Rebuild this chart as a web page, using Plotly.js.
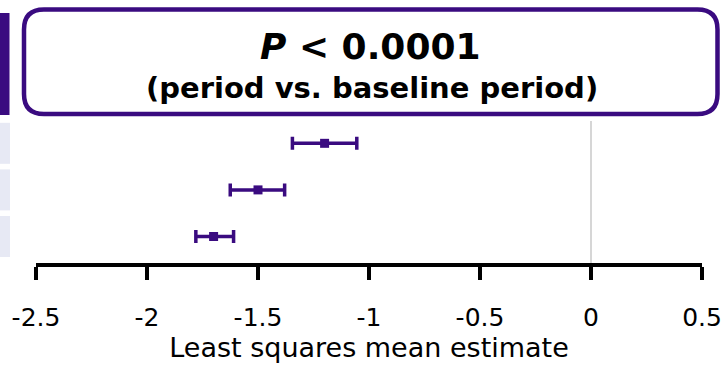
<!DOCTYPE html>
<html>
<head>
<meta charset="utf-8">
<script src="https://cdn.plot.ly/plotly-3.0.1.min.js"></script>
<style>
  html, body { margin: 0; padding: 0; background: #fff; }
  #chart { width: 727px; height: 365px; }
</style>
</head>
<body>
<div id="chart"></div>
<script>
// ---- data ----
const rowPositions = [3, 2, 1];             // top, middle, bottom row
const estimates    = [-1.20, -1.50, -1.70];
const lowerCI      = [-1.345, -1.625, -1.78];
const upperCI      = [-1.055, -1.38, -1.61];
const tickValues   = [-2.5, -2, -1.5, -1, -0.5, 0, 0.5];
const tickLabels   = ['-2.5', '-2', '-1.5', '-1', '-0.5', '0', '0.5'];
const titleMain    = '<b><i>P</i> &lt; 0.0001</b>';
const titleSub     = '<b>(period vs. baseline period)</b>';
const xTitle       = 'Least squares mean estimate';

// ---- styling ----
const purple = '#3a0b80';
const W = 727, H = 365;
const M = { l: 36, r: 25, t: 121, b: 102 };
const PW = W - M.l - M.r, PH = H - M.t - M.b;
const px = x => (x - M.l) / PW;            // pixel -> paper (x)
const py = y => (H - M.b - y) / PH;        // pixel -> paper (y)

// rounded title box (pixel geometry -> paper path)
function roundedBox(x0, y0, x1, y1, r) {
  const P = (x, y) => px(x).toFixed(5) + ',' + py(y).toFixed(5);
  return 'M' + P(x0 + r, y0) +
         ' L' + P(x1 - r, y0) +
         ' Q' + P(x1, y0) + ' ' + P(x1, y0 + r) +
         ' L' + P(x1, y1 - r) +
         ' Q' + P(x1, y1) + ' ' + P(x1 - r, y1) +
         ' L' + P(x0 + r, y1) +
         ' Q' + P(x0, y1) + ' ' + P(x0, y1 - r) +
         ' L' + P(x0, y0 + r) +
         ' Q' + P(x0, y0) + ' ' + P(x0 + r, y0) + ' Z';
}

const errPlus  = upperCI.map((u, i) => u - estimates[i]);
const errMinus = estimates.map((e, i) => e - lowerCI[i]);

const trace = {
  type: 'scatter',
  mode: 'markers',
  x: estimates,
  y: rowPositions,
  marker: { symbol: 'square', size: 9, color: purple },
  error_x: {
    type: 'data', symmetric: false,
    array: errPlus, arrayminus: errMinus,
    color: purple, thickness: 3.5, width: 6.5
  },
  hoverinfo: 'skip',
  showlegend: false,
  cliponaxis: false
};

const bandShapes = rowPositions.map(r => ({
  type: 'rect', xref: 'paper', yref: 'y', layer: 'below',
  x0: px(0), x1: px(10), y0: r - 0.44, y1: r + 0.44,
  fillcolor: '#e7e9f4', line: { width: 0 }
}));

const layout = {
  width: W, height: H,
  margin: M,
  paper_bgcolor: '#ffffff',
  plot_bgcolor: '#ffffff',
  font: { family: 'DejaVu Sans, Verdana, sans-serif', color: '#000000' },
  xaxis: {
    range: [-2.5, 0.5],
    tickmode: 'array',
    tickvals: tickValues,
    ticktext: tickLabels,
    showgrid: false,
    zeroline: true, zerolinecolor: '#d6d6d6', zerolinewidth: 2,
    showline: true, linecolor: '#000000', linewidth: 4,
    ticks: 'outside', ticklen: 13, tickwidth: 4, tickcolor: '#000000',
    tickfont: { size: 25, color: '#000000' },
    ticklabelstandoff: 16,
    title: { text: xTitle, font: { size: 27, color: '#000000' }, standoff: 4 },
    automargin: false,
    fixedrange: true
  },
  yaxis: {
    range: [0.431, 3.479],
    visible: false,
    showgrid: false, zeroline: false,
    fixedrange: true
  },
  shapes: [
    ...bandShapes,
    { type: 'rect', xref: 'paper', yref: 'paper',
      x0: px(0), x1: px(9.5), y0: py(115), y1: py(13),
      fillcolor: purple, line: { width: 0 } },
    { type: 'path', xref: 'paper', yref: 'paper',
      path: roundedBox(24, 9.5, 717.5, 114, 20),
      fillcolor: 'rgba(255,255,255,0)',
      line: { color: purple, width: 4.5 } }
  ],
  annotations: [
    { xref: 'paper', yref: 'paper', x: px(370), y: py(46),
      xanchor: 'center', yanchor: 'middle', showarrow: false,
      text: titleMain, font: { size: 36, color: '#000000' } },
    { xref: 'paper', yref: 'paper', x: px(372), y: py(88),
      xanchor: 'center', yanchor: 'middle', showarrow: false,
      text: titleSub, font: { size: 29, color: '#000000' } }
  ]
};

Plotly.newPlot('chart', [trace], layout, { staticPlot: true, displayModeBar: false });
</script>
</body>
</html>
